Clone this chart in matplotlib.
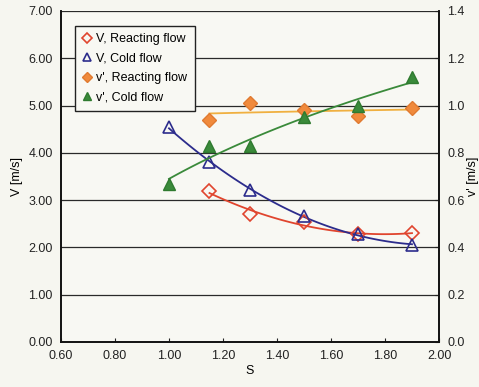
import numpy as np
import matplotlib
matplotlib.use("Agg")
import matplotlib.pyplot as plt

plt.rcParams['font.family'] = ['Liberation Sans', 'DejaVu Sans']

# swirl number S
s_react = [1.15, 1.30, 1.50, 1.70, 1.90]
s_cold = [1.00, 1.15, 1.30, 1.50, 1.70, 1.90]

# mean velocity V [m/s]
v_react = [3.19, 2.70, 2.54, 2.28, 2.30]
v_cold = [4.54, 3.80, 3.22, 2.66, 2.28, 2.05]

# fluctuation v' [m/s]
vp_react = [0.94, 1.01, 0.98, 0.955, 0.99]
vp_cold = [0.67, 0.83, 0.83, 0.95, 1.00, 1.12]

red = '#e0452e'
blue = '#2c2c8c'
orange = '#f08a3c'
orange_line = '#f0b040'
green = '#3a8a3a'

fig = plt.figure(figsize=(4.79, 3.87), dpi=100)
fig.patch.set_facecolor('#f6f6f0')
ax = fig.add_axes([0.1273, 0.1163, 0.7892, 0.8553])
ax.set_facecolor('#f8f8f3')
ax2 = ax.twinx()

# trendlines
def poly_line(x, y, deg):
    c = np.polyfit(x, y, deg)
    xx = np.linspace(min(x), max(x), 100)
    return xx, np.polyval(c, xx)

def log_line(x, y):
    c = np.polyfit(np.log(x), y, 1)
    xx = np.linspace(min(x), max(x), 100)
    return xx, np.polyval(c, np.log(xx))

xx, yy = poly_line(s_react, v_react, 2)
ax.plot(xx, yy, color=red, lw=1.3, zorder=3)
xx, yy = poly_line(s_cold, v_cold, 2)
ax.plot(xx, yy, color=blue, lw=1.3, zorder=3)
xx, yy = log_line(s_react, vp_react)
ax2.plot(xx, yy, color=orange_line, lw=1.3, zorder=3)
xx, yy = log_line(s_cold, vp_cold)
ax2.plot(xx, yy, color=green, lw=1.3, zorder=3)

h1, = ax.plot(s_react, v_react, ls='none', marker='D', ms=7, mfc='none',
              mec=red, mew=1.2, zorder=4, label='V, Reacting flow')
h2, = ax.plot(s_cold, v_cold, ls='none', marker='^', ms=9, mfc='none',
              mec=blue, mew=1.2, zorder=4, label='V, Cold flow')
h3, = ax2.plot(s_react, vp_react, ls='none', marker='D', ms=7, mfc=orange,
               mec='#e07a30', mew=1, zorder=4, label="v', Reacting flow")
h4, = ax2.plot(s_cold, vp_cold, ls='none', marker='^', ms=9, mfc=green,
               mec='#2f7a2f', mew=1, zorder=4, label="v', Cold flow")

ax.set_xlim(0.6, 2.0)
ax.set_ylim(0, 7)
ax2.set_ylim(0, 1.4)
ax.set_xticks(np.arange(0.6, 2.01, 0.2))
ax.set_xticklabels(['%.2f' % t for t in np.arange(0.6, 2.01, 0.2)])
ax.set_yticks(np.arange(0, 7.01, 1))
ax.set_yticklabels(['%.2f' % t for t in np.arange(0, 7.01, 1)])
ax2.set_yticks(np.arange(0, 1.41, 0.2))
ax2.set_yticklabels(['%.1f' % t for t in np.arange(0, 1.41, 0.2)])

for y in range(1, 8):
    ax.axhline(y, color='#2a2a2a', lw=0.9, zorder=1)

ax.tick_params(axis='x', direction='in', length=3, labelsize=9, pad=6, colors='#222')
ax.tick_params(axis='y', length=0, labelsize=9, pad=6, colors='#222')
ax2.tick_params(axis='y', direction='in', length=3, labelsize=9, pad=6, colors='#222')

for a in (ax, ax2):
    for sp in ('left', 'right', 'bottom'):
        a.spines[sp].set_color('#111')
        a.spines[sp].set_linewidth(1.2)
    a.spines['top'].set_visible(False)

ax.set_xlabel('S', fontsize=9, labelpad=2)
ax.set_ylabel('V [m/s]', fontsize=9, labelpad=4)
ax2.set_ylabel("v' [m/s]", fontsize=9, labelpad=2)

leg = ax.legend(handles=[h1, h2, h3, h4], loc='upper left',
                bbox_to_anchor=(0.02, 0.975), fontsize=9, frameon=True,
                fancybox=False, edgecolor='#222', framealpha=1,
                facecolor='#f8f8f3', handlelength=0.8, handletextpad=0.3,
                borderpad=0.6, labelspacing=0.6, markerscale=0.7)
leg.get_frame().set_linewidth(1.0)
leg.set_zorder(5)

fig.savefig('out.png', dpi=100, facecolor=fig.get_facecolor())
